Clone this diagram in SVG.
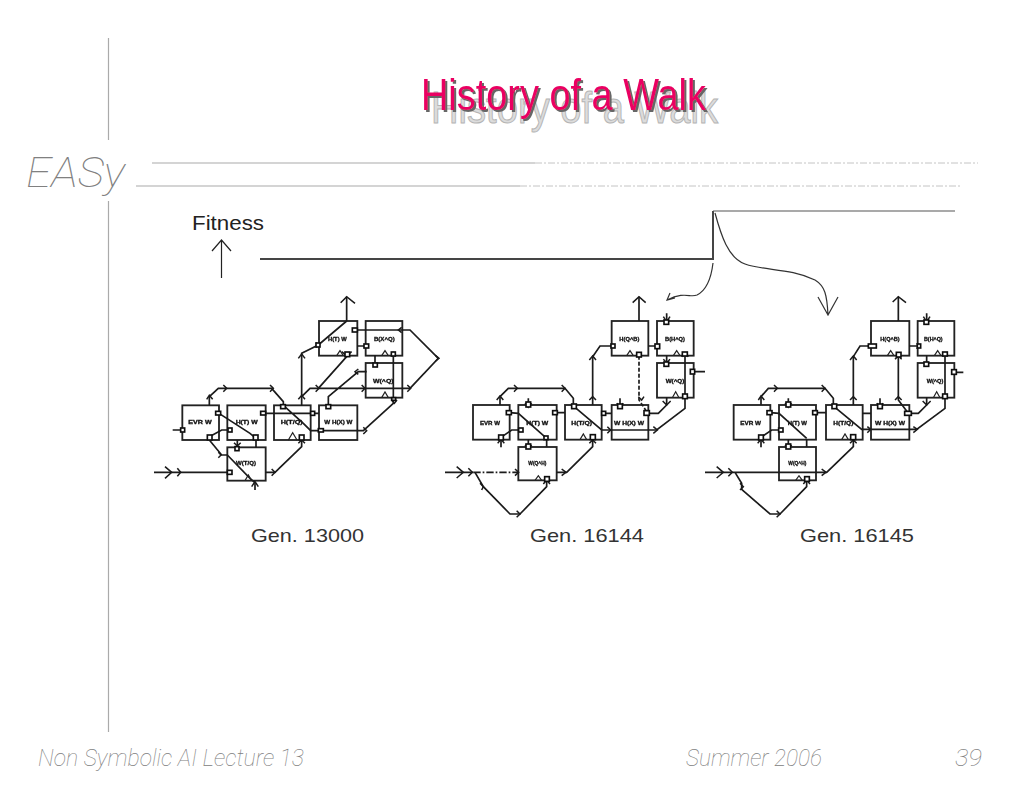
<svg xmlns="http://www.w3.org/2000/svg" width="1024" height="791" viewBox="0 0 1024 791">
<defs>
<style>
.rule{stroke:#aaa;stroke-width:1.2;fill:none}
.dots{stroke:#c4c4c4;stroke-width:1;fill:none;stroke-dasharray:7 2 2 2}
.thin{font-family:"Roboto","Inter","Liberation Sans",sans-serif;font-style:italic;font-weight:100;fill:#808080}
.sans{font-family:"Liberation Sans",Arial,sans-serif}
.title{font-family:"Liberation Sans",Arial,sans-serif;font-size:44px}
.cap{font-family:"Liberation Sans",Arial,sans-serif;font-size:19px;fill:#333}
.box{fill:#fff;stroke:#222;stroke-width:5.500}
.port{fill:#fff;stroke:#111;stroke-width:5}
.tri{fill:none;stroke:#222;stroke-width:3.500}
.lab{font-family:"Liberation Sans",Arial,sans-serif;font-size:18px;font-weight:bold;fill:#111;stroke:#111;stroke-width:1;text-anchor:middle}
.wire{fill:none;stroke:#1a1a1a;stroke-width:5}
.head{fill:none;stroke:#1a1a1a;stroke-width:4.500}
.dash{stroke-dasharray:12 6}
.dd{stroke-dasharray:22 6 5 6}
.curve{fill:none;stroke:#333;stroke-width:1.200}
</style>
<filter id="soft" x="-5%" y="-5%" width="110%" height="110%"><feGaussianBlur stdDeviation="0.3"/></filter>
<filter id="softz" x="-5%" y="-5%" width="110%" height="110%"><feGaussianBlur stdDeviation="1"/></filter>
<filter id="shadow" x="-5%" y="-10%" width="110%" height="130%"><feDropShadow dx="2" dy="2" stdDeviation="0.7" flood-color="#666"/></filter>
</defs>
<rect width="1024" height="791" fill="#fff"/>

<g id="frame">
<path class="rule" d="M108.500 38V140M108.500 201V732"/>
<path class="rule" d="M152 163H535M136 186H520"/>
<path class="dots" d="M535 163H978M520 186H962"/>
</g>
<text class="thin" x="26" y="187" font-size="42" textLength="99" lengthAdjust="spacingAndGlyphs">EASy</text>

<g id="title">
<text class="title" x="431" y="123" fill="#dcdcdc" stroke="#b4b4b4" stroke-width="1" textLength="287" lengthAdjust="spacingAndGlyphs">History of a Walk</text>
<text class="title" x="421" y="110" fill="#ea0062" filter="url(#shadow)" textLength="285" lengthAdjust="spacingAndGlyphs">History of a Walk</text>
</g>

<g id="fitness-axis">
<text class="sans" x="192" y="230" font-size="21" fill="#222" textLength="72" lengthAdjust="spacingAndGlyphs">Fitness</text>
<path fill="none" stroke="#222" stroke-width="1.200" d="M221.500 278V240M212 251L221.500 240L231 251"/>
</g>

<g id="fitness-curve" filter="url(#soft)">
<path fill="none" stroke="#444" stroke-width="2" d="M260 259H713V211"/>
<path fill="none" stroke="#555" stroke-width="1.200" d="M713 211H955"/>
<path class="curve" d="M713 263C711 280 705 291 697 295C690 298 685 291 667 300M670 293L667 300L675 298"/>
<path class="curve" d="M715 213C721 235 728 258 745 264C765 271 790 268 815 280C825 286 827 295 828 315M818 297L828 315L838 297"/>
</g>

<g id="gen-13000" transform="translate(150 290) scale(.33333)" filter="url(#softz)">
<g id="g1-evr"><rect class="box" x="97" y="346" width="110" height="104"/><text class="lab" x="150" y="403" textLength="70" lengthAdjust="spacingAndGlyphs">EVR W</text></g>
<g id="g1-h"><rect class="box" x="232" y="346" width="115" height="104"/><text class="lab" x="290" y="403" textLength="66" lengthAdjust="spacingAndGlyphs">H(T) W</text></g>
<g id="g1-hq"><rect class="box" x="372" y="346" width="110" height="104"/><text class="lab" x="425" y="403" textLength="66" lengthAdjust="spacingAndGlyphs">H(T/Q)</text></g>
<g id="g1-hor"><rect class="box" x="507" y="346" width="115" height="104"/><text class="lab" x="565" y="403" textLength="84" lengthAdjust="spacingAndGlyphs">W H(X) W</text></g>
<g id="g1-low"><rect class="box" x="232" y="472" width="115" height="100"/><text class="lab" x="288" y="525" textLength="60" lengthAdjust="spacingAndGlyphs">W(T/Q)</text></g>
<g id="g1-top1"><rect class="box" x="507" y="93" width="115" height="104"/><text class="lab" x="562" y="152" textLength="56" lengthAdjust="spacingAndGlyphs">H(T) W</text></g>
<g id="g1-top2"><rect class="box" x="647" y="93" width="110" height="104"/><text class="lab" x="703" y="152" textLength="62" lengthAdjust="spacingAndGlyphs">B(X^Q)</text></g>
<g id="g1-mid"><rect class="box" x="647" y="219" width="110" height="104"/><text class="lab" x="700" y="278" textLength="62" lengthAdjust="spacingAndGlyphs">W(^Q)</text></g>
<g id="g1-connectors">
<path class="wire" d="M590 93V20M12 547H232M347 547H375L455 470V450M232 495L300 565L315 578V600M68 420H100M178 346V320L205 295H365L400 335V346M178 450V440L215 420H235M178 450L215 495H232M207 370L300 430L318 445M262 450V472M318 450V472M347 370H507M400 346L460 400L482 422H640L730 340V185M455 346V190L505 165L590 93M455 320L480 295H780L865 205L780 120H610M505 295L590 200V197M535 346V320L625 245H650M622 168H650M675 197V219"/>
<path class="head" d="M572 38L590 20L615 40M45 530L65 547L45 565M82 535L92 547L82 559M445 205L455 192L465 205M170 328L178 316L188 328M220 285L230 295L220 305M360 285L370 295L360 305M445 328L455 316L465 328M497 285L507 295L497 305M635 285L645 295L635 305M772 285L782 295L772 305M857 197L867 205L857 213M755 112L745 120L755 128M497 158L507 165L497 172M575 185L590 197L605 185M625 237L615 245L625 253M640 412L650 422L640 432M725 330L733 340L741 330M205 487L213 495L205 503M365 537L375 547L365 557M445 460L455 450L465 460M305 590L315 575L325 590M252 458L262 468L272 458"/>
<g id="g1-ports">
<rect class="port" x="197" y="364" width="15" height="11"/><rect class="port" x="172" y="435" width="14" height="15"/><rect class="port" x="234" y="414" width="12" height="12"/><rect class="port" x="92" y="414" width="12" height="12"/><rect class="port" x="332" y="364" width="15" height="11"/><rect class="port" x="310" y="435" width="14" height="15"/><rect class="port" x="255" y="470" width="12" height="12"/><rect class="port" x="392" y="344" width="14" height="12"/><rect class="port" x="448" y="435" width="14" height="15"/><rect class="port" x="482" y="364" width="12" height="12"/><rect class="port" x="505" y="416" width="15" height="10"/><rect class="port" x="528" y="344" width="14" height="12"/><rect class="port" x="232" y="541" width="14" height="12"/><rect class="port" x="607" y="114" width="15" height="12"/><rect class="port" x="642" y="162" width="14" height="12"/><rect class="port" x="498" y="159" width="12" height="12"/><rect class="port" x="585" y="186" width="14" height="14"/><rect class="port" x="669" y="219" width="13" height="12"/><rect class="port" x="724" y="186" width="12" height="12"/><rect class="port" x="725" y="323" width="12" height="8"/>
</g>
<path class="tri" d="M415 450L428 428L441 450M285 572L295 555L305 572M560 197L570 182L580 197M695 197L705 182L715 197M695 323L705 306L715 323"/>
</g>
</g>
<text class="cap" x="251" y="542" textLength="113" lengthAdjust="spacingAndGlyphs">Gen. 13000</text>

<g id="gen-16144" transform="translate(440 200) scale(.33333)" filter="url(#softz)">
<g id="g2-evr"><rect class="box" x="99" y="615" width="110" height="104"/><text class="lab" x="150" y="674" textLength="60" lengthAdjust="spacingAndGlyphs">EVR W</text></g>
<g id="g2-h"><rect class="box" x="235" y="615" width="115" height="104"/><text class="lab" x="292" y="674" textLength="66" lengthAdjust="spacingAndGlyphs">H(T) W</text></g>
<g id="g2-hq"><rect class="box" x="375" y="615" width="110" height="104"/><text class="lab" x="425" y="674" textLength="62" lengthAdjust="spacingAndGlyphs">H(T/Q)</text></g>
<g id="g2-hor"><rect class="box" x="515" y="615" width="110" height="104"/><text class="lab" x="567" y="674" textLength="90" lengthAdjust="spacingAndGlyphs">W H(X) W</text></g>
<g id="g2-low"><rect class="box" x="235" y="741" width="115" height="100"/><text class="lab" x="292" y="796" textLength="54" lengthAdjust="spacingAndGlyphs">W(Q^H)</text></g>
<g id="g2-top1"><rect class="box" x="515" y="363" width="110" height="104"/><text class="lab" x="568" y="424" textLength="60" lengthAdjust="spacingAndGlyphs">H(Q^B)</text></g>
<g id="g2-top2"><rect class="box" x="651" y="363" width="110" height="104"/><text class="lab" x="705" y="424" textLength="60" lengthAdjust="spacingAndGlyphs">B(H^Q)</text></g>
<g id="g2-mid"><rect class="box" x="651" y="489" width="110" height="104"/><text class="lab" x="705" y="548" textLength="56" lengthAdjust="spacingAndGlyphs">W(^Q)</text></g>
<g id="g2-connectors">
<path class="wire" d="M597 363V290M680 340V370M625 438H655M458 615V470L480 438H515M680 467V489M735 460V625L650 690H485L405 622M757 515H795M680 593V615L655 640H625M540 595V622M265 595V622M180 615V590L205 565H375L400 595V622M209 638L235 640L320 715M183 715V742M183 712L215 690H240M345 638H375M485 640H515M265 719V745M320 719V741M15 817H100M350 817H380L458 740V715M105 817L130 860L210 942H240L320 860V840"/>
<path class="wire dash" d="M597 467V600L620 635"/>
<path class="wire dd" d="M100 817H235"/>
<path class="head" d="M578 308L597 290L617 308M50 800L70 817L50 834M85 805L97 817L85 829M225 807L236 817L225 827M448 480L458 468L468 480M670 350L680 365L690 350M670 478L680 488L690 478M668 603L680 615L692 603M170 600L180 588L190 600M222 555L232 565L222 575M365 555L375 565L365 575M448 600L458 590L468 600M230 932L240 942L230 952M310 852L320 840L330 852M120 850L130 860L125 870M365 807L378 817L365 827M448 730L458 720L468 730M640 680L652 690L640 700M502 680L512 690L502 700M173 730L183 718L193 730M530 610L540 622L550 610M255 610L265 622L275 610M255 735L265 745L275 735M595 590L605 600L612 590M725 470L735 460L745 470"/>
<g id="g2-ports">
<rect class="port" x="199" y="632" width="15" height="12"/><rect class="port" x="176" y="705" width="14" height="15"/><rect class="port" x="236" y="684" width="13" height="12"/><rect class="port" x="338" y="632" width="14" height="12"/><rect class="port" x="312" y="708" width="12" height="11"/><rect class="port" x="258" y="606" width="14" height="15"/><rect class="port" x="258" y="732" width="14" height="15"/><rect class="port" x="395" y="612" width="14" height="14"/><rect class="port" x="451" y="704" width="15" height="15"/><rect class="port" x="485" y="634" width="12" height="12"/><rect class="port" x="533" y="612" width="14" height="14"/><rect class="port" x="612" y="632" width="16" height="14"/><rect class="port" x="513" y="432" width="12" height="12"/><rect class="port" x="590" y="457" width="14" height="14"/><rect class="port" x="645" y="432" width="14" height="14"/><rect class="port" x="672" y="360" width="14" height="13"/><rect class="port" x="727" y="456" width="15" height="12"/><rect class="port" x="672" y="486" width="14" height="13"/><rect class="port" x="751" y="508" width="13" height="14"/><rect class="port" x="728" y="582" width="14" height="14"/><rect class="port" x="314" y="830" width="14" height="14"/>
</g>
<path class="tri" d="M420 719L430 702L440 719M285 841L295 827L305 841M560 467L570 452L580 467M700 467L710 452L720 467M697 593L707 575L717 593"/>
</g>
</g>
<text class="cap" x="530" y="542" textLength="114" lengthAdjust="spacingAndGlyphs">Gen. 16144</text>

<g id="gen-16145" transform="translate(700 200) scale(.33333)" filter="url(#softz)">
<g id="g3-evr"><rect class="box" x="101" y="615" width="110" height="104"/><text class="lab" x="152" y="674" textLength="62" lengthAdjust="spacingAndGlyphs">EVR W</text></g>
<g id="g3-h"><rect class="box" x="237" y="615" width="111" height="104"/><text class="lab" x="292" y="674" textLength="58" lengthAdjust="spacingAndGlyphs">H(T) W</text></g>
<g id="g3-hq"><rect class="box" x="378" y="615" width="110" height="104"/><text class="lab" x="430" y="674" textLength="60" lengthAdjust="spacingAndGlyphs">H(T/Q)</text></g>
<g id="g3-hor"><rect class="box" x="513" y="615" width="115" height="104"/><text class="lab" x="570" y="674" textLength="90" lengthAdjust="spacingAndGlyphs">W H(X) W</text></g>
<g id="g3-low"><rect class="box" x="237" y="741" width="111" height="100"/><text class="lab" x="292" y="796" textLength="54" lengthAdjust="spacingAndGlyphs">W(Q^H)</text></g>
<g id="g3-top1"><rect class="box" x="513" y="363" width="115" height="104"/><text class="lab" x="570" y="422" textLength="58" lengthAdjust="spacingAndGlyphs">H(Q^B)</text></g>
<g id="g3-top2"><rect class="box" x="653" y="363" width="110" height="104"/><text class="lab" x="700" y="422" textLength="56" lengthAdjust="spacingAndGlyphs">B(H^Q)</text></g>
<g id="g3-mid"><rect class="box" x="653" y="489" width="110" height="104"/><text class="lab" x="705" y="548" textLength="50" lengthAdjust="spacingAndGlyphs">W(^Q)</text></g>
<g id="g3-connectors">
<path class="wire" d="M595 363V290M680 340V370M628 438H655M460 615V470L480 438H513M680 467V489M735 460V625L650 688H485L405 622M763 517H790M680 593V615L655 640H625M540 595V622M265 595V622M183 615V590L205 565H375L400 595V622M211 638L237 640L320 715M183 715V742M183 712L215 690H240M345 638H378M488 640H513M265 719V745M320 719V741M15 817H380L460 740V715M105 817L125 850V868L210 942H240L320 860V840M595 467V600L625 640"/>
<path class="head" d="M578 306L595 290L618 308M50 800L70 817L50 834M85 805L97 817L85 829M450 480L460 468L470 480M670 350L680 365L690 350M668 603L680 615L692 603M175 600L183 588L193 600M222 555L232 565L222 575M365 555L375 565L365 575M450 600L460 590L470 600M230 932L240 942L230 952M310 852L320 840L330 852M120 850L130 860L120 870M365 807L378 817L365 827M450 730L460 720L470 730M640 680L652 688L640 698M502 680L512 688L502 698M173 730L183 718L193 730M530 610L540 622L550 610M255 610L265 622L275 610M255 735L265 745L275 735M585 478L595 468L605 478M585 600L595 590L605 600M650 430L660 438L650 446"/>
<g id="g3-ports">
<rect class="port" x="201" y="632" width="15" height="12"/><rect class="port" x="176" y="705" width="14" height="15"/><rect class="port" x="236" y="684" width="13" height="12"/><rect class="port" x="338" y="632" width="14" height="12"/><rect class="port" x="258" y="606" width="14" height="15"/><rect class="port" x="258" y="732" width="14" height="15"/><rect class="port" x="396" y="612" width="14" height="14"/><rect class="port" x="452" y="704" width="15" height="15"/><rect class="port" x="533" y="612" width="14" height="14"/><rect class="port" x="614" y="634" width="20" height="12"/><rect class="port" x="505" y="432" width="24" height="12"/><rect class="port" x="589" y="457" width="14" height="14"/><rect class="port" x="652" y="432" width="10" height="12"/><rect class="port" x="672" y="360" width="14" height="13"/><rect class="port" x="728" y="456" width="14" height="12"/><rect class="port" x="672" y="486" width="14" height="13"/><rect class="port" x="755" y="509" width="14" height="14"/><rect class="port" x="728" y="582" width="14" height="14"/><rect class="port" x="314" y="830" width="14" height="14"/>
</g>
<path class="tri" d="M425 719L435 702L445 719M287 841L297 827L307 841M562 467L572 452L582 467M703 467L713 452L723 467M700 593L710 575L720 593"/>
</g>
</g>
<text class="cap" x="800" y="542" textLength="114" lengthAdjust="spacingAndGlyphs">Gen. 16145</text>

<g id="footer">
<text class="thin" x="38" y="766" font-size="23" textLength="266" lengthAdjust="spacingAndGlyphs">Non Symbolic AI Lecture 13</text>
<text class="thin" x="686" y="766" font-size="23" textLength="136" lengthAdjust="spacingAndGlyphs">Summer 2006</text>
<text class="thin" x="955" y="766" font-size="23" textLength="27" lengthAdjust="spacingAndGlyphs">39</text>
</g>
</svg>
